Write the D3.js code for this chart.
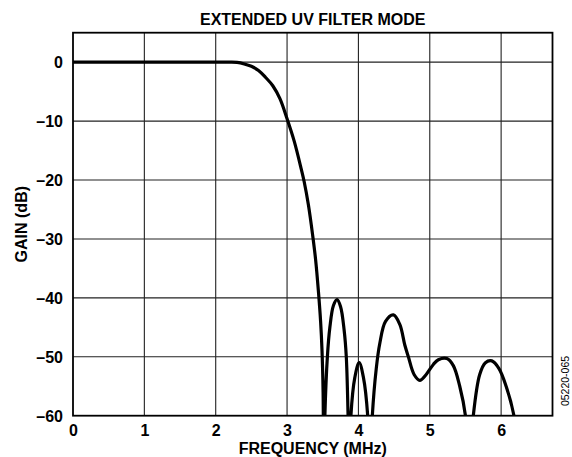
<!DOCTYPE html>
<html>
<head>
<meta charset="utf-8">
<script src="https://cdn.jsdelivr.net/npm/d3@7"></script>
<style>
  html, body { margin: 0; padding: 0; background: #fff; }
  svg { display: block; }
  text { font-family: "Liberation Sans", Arial, sans-serif; }
</style>
</head>
<body>
<svg id="chart" width="572" height="457"></svg>
<script>
// ---- data ----
const chartTitle = "EXTENDED UV FILTER MODE";
const xTitle = "FREQUENCY (MHz)";
const yTitle = "GAIN (dB)";
const figCode = "05220-065";

const xTicks = [0, 1, 2, 3, 4, 5, 6];
const yTicks = [0, -10, -20, -30, -40, -50, -60];
const xTickLabels = ["0", "1", "2", "3", "4", "5", "6"];
const yTickLabels = ["0", "–10", "–20", "–30", "–40", "–50", "–60"];

// frequency (MHz) and gain (dB) of the response curve
const freq = [0, 0.5, 1.0, 1.5, 2.0, 2.2, 2.3, 2.4, 2.5, 2.6, 2.7, 2.8, 2.9, 3.0, 3.1, 3.2, 3.24, 3.3, 3.36, 3.4, 3.44, 3.47, 3.49, 3.505, 3.515,
  3.53, 3.565, 3.6, 3.65, 3.70, 3.75, 3.8, 3.83, 3.855, 3.875,
  3.895, 3.95, 4.01, 4.07, 4.13, 4.16,
  4.195, 4.25, 4.3, 4.38, 4.49, 4.58, 4.65, 4.70, 4.78, 4.86, 4.95, 5.05, 5.12, 5.24, 5.33, 5.42, 5.5, 5.555,
  5.61, 5.7, 5.78, 5.87, 5.97, 6.07, 6.18, 6.2];
const gain = [0, 0, 0, 0, 0, 0, -0.05, -0.3, -0.7, -1.4, -2.6, -4.0, -6.2, -9.6, -13.4, -18.2, -20.3, -24.3, -29.5, -33.5, -39, -44, -49, -56, -72,
  -60, -50, -45, -41.3, -40.3, -41.5, -45.5, -50, -60, -72,
  -60, -53.5, -51, -53.5, -60, -72,
  -60, -52, -47.7, -44, -42.9, -44.5, -48, -50, -53, -54, -53, -51.3, -50.5, -50.3, -51.5, -55, -60, -70,
  -60, -53, -51, -50.7, -52, -55, -60, -62];

// ---- layout ----
const svg = d3.select("#chart");
const pL = 73, pR = 552.5, pT = 32.7, pB = 415.7;
const fontPx = "16px";

const x = d3.scaleLinear().domain([0, 6.72]).range([pL, pR]);
const y = d3.scaleLinear().domain([-60, 5]).range([pB, pT]);

// clip
svg.append("defs").append("clipPath").attr("id", "plotclip")
  .append("rect").attr("x", pL).attr("y", pT)
  .attr("width", pR - pL).attr("height", pB - pT);

// grid
const grid = svg.append("g");
grid.selectAll("line.v").data(xTicks.slice(1)).enter().append("line")
  .attr("x1", d => x(d)).attr("x2", d => x(d))
  .attr("y1", pT).attr("y2", pB)
  .attr("stroke", "#222").attr("stroke-width", 1.1);
grid.selectAll("line.h").data(yTicks.slice(0, -1)).enter().append("line")
  .attr("x1", pL).attr("x2", pR)
  .attr("y1", d => y(d)).attr("y2", d => y(d))
  .attr("stroke", "#222").attr("stroke-width", 1.1);

// curve
const pts = freq.map((f, i) => [f, gain[i]]);
const line = d3.line().x(d => x(d[0])).y(d => y(d[1])).curve(d3.curveCatmullRom.alpha(0.5));
svg.append("path").datum(pts)
  .attr("clip-path", "url(#plotclip)")
  .attr("d", line)
  .attr("fill", "none").attr("stroke", "#000")
  .attr("stroke-width", 3.2).attr("stroke-linejoin", "round");

// frame
svg.append("rect").attr("x", pL).attr("y", pT)
  .attr("width", pR - pL).attr("height", pB - pT)
  .attr("fill", "none").attr("stroke", "#000").attr("stroke-width", 1.8);

// axes labels via d3 axes (no lines)
const xAxis = d3.axisBottom(x).tickValues(xTicks).tickSize(0).tickPadding(0)
  .tickFormat((d, i) => xTickLabels[i]);
const gx = svg.append("g").attr("transform", `translate(0,${pB})`).call(xAxis);
gx.select(".domain").remove();
gx.selectAll("text").attr("y", 20.5).attr("dy", null)
  .style("font-size", fontPx).style("font-weight", "bold")
  .style("font-family", '"Liberation Sans", Arial, sans-serif').attr("fill", "#000");

const yAxis = d3.axisLeft(y).tickValues(yTicks).tickSize(0).tickPadding(0)
  .tickFormat((d, i) => yTickLabels[i]);
const gy = svg.append("g").attr("transform", `translate(${pL},0)`).call(yAxis);
gy.select(".domain").remove();
gy.selectAll("text").attr("x", -10).attr("dy", "0.36em")
  .style("font-size", fontPx).style("font-weight", "bold")
  .style("font-family", '"Liberation Sans", Arial, sans-serif').attr("fill", "#000");

// titles
svg.append("text").attr("x", (pL + pR) / 2).attr("y", 25)
  .attr("text-anchor", "middle").style("font-size", fontPx).style("font-weight", "bold")
  .text(chartTitle);
svg.append("text").attr("x", (pL + pR) / 2).attr("y", 454)
  .attr("text-anchor", "middle").style("font-size", fontPx).style("font-weight", "bold")
  .text(xTitle);
svg.append("text")
  .attr("transform", `translate(27,${(pT + pB) / 2}) rotate(-90)`)
  .attr("text-anchor", "middle").style("font-size", fontPx).style("font-weight", "bold")
  .text(yTitle);
svg.append("text")
  .attr("transform", `translate(569,381) rotate(-90)`)
  .attr("text-anchor", "middle").style("font-size", "10.5px")
  .text(figCode);
</script>
</body>
</html>
